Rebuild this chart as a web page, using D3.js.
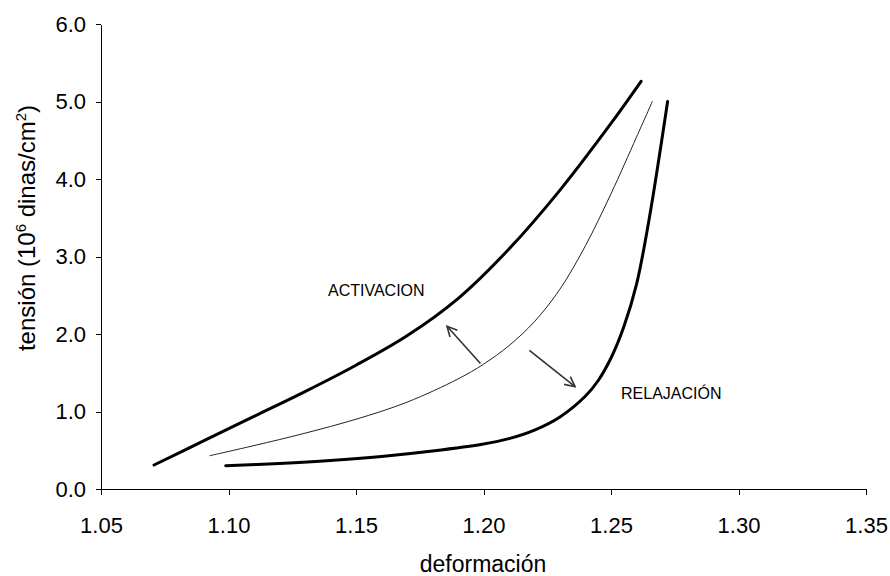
<!DOCTYPE html>
<html>
<head>
<meta charset="utf-8">
<script src="https://cdn.jsdelivr.net/npm/d3@7"></script>
<style>
  html, body { margin: 0; padding: 0; background: #fff; }
  svg { display: block; font-family: "Liberation Sans", Arial, sans-serif; }
</style>
</head>
<body>
<svg id="chart" width="890" height="576"></svg>
<script>
// Stress–strain loops: activation, intermediate and relaxation curves
const activacionX = [1.0708, 1.09, 1.11, 1.13, 1.15, 1.17, 1.19, 1.21, 1.23, 1.25, 1.2618];
const activacionY = [0.31, 0.617, 0.937, 1.257, 1.597, 1.977, 2.457, 3.097, 3.857, 4.717, 5.26];

const intermediaX = [1.0927, 1.11, 1.13, 1.15, 1.17, 1.19, 1.20, 1.21, 1.22, 1.23, 1.24, 1.25, 1.26, 1.2662];
const intermediaY = [0.43, 0.56, 0.72, 0.90, 1.12, 1.42, 1.61, 1.85, 2.16, 2.58, 3.14, 3.81, 4.54, 5.00];

const relajacionX = [1.0989, 1.12, 1.14, 1.16, 1.18, 1.20, 1.21, 1.22, 1.23, 1.24, 1.245, 1.25, 1.255, 1.26, 1.265, 1.2722];
const relajacionY = [0.30, 0.33, 0.368, 0.42, 0.49, 0.58, 0.65, 0.76, 0.93, 1.20, 1.40, 1.69, 2.09, 2.64, 3.49, 5.00];

// Arrows: [x0, y0, x1, y1] from tail to head
const flechaActivacion = [1.1988, 1.62, 1.1857, 2.10];
const flechaRelajacion = [1.2180, 1.79, 1.2359, 1.32];

const xTicks = [1.05, 1.10, 1.15, 1.20, 1.25, 1.30, 1.35];
const yTicks = [0, 1, 2, 3, 4, 5, 6];

const svg = d3.select("#chart");

const x = d3.scaleLinear().domain([1.05, 1.35]).range([101, 866]);
const y = d3.scaleLinear().domain([0, 6]).range([489, 24]);

// Axes
const xAxis = d3.axisBottom(x).tickValues(xTicks).tickFormat(d3.format(".2f"))
  .tickSizeInner(6).tickSizeOuter(0).tickPadding(22);
const yAxis = d3.axisLeft(y).tickValues(yTicks).tickFormat(d3.format(".1f"))
  .tickSizeInner(5).tickSizeOuter(0).tickPadding(10);

const gx = svg.append("g").attr("transform", "translate(0,489)").call(xAxis);
const gy = svg.append("g").attr("transform", "translate(101,0)").call(yAxis);

[gx, gy].forEach(g => {
  g.selectAll("path, line").attr("stroke", "#000").attr("stroke-width", 1)
    .attr("shape-rendering", "crispEdges");
  g.selectAll("text").attr("fill", "#000").attr("font-size", 22)
    .attr("font-family", "'Liberation Sans', Arial, sans-serif");
});

// Axis titles
svg.append("text")
  .attr("x", 483).attr("y", 572)
  .attr("text-anchor", "middle")
  .attr("font-size", 23)
  .attr("fill", "#000")
  .text("deformación");

const yt = svg.append("text")
  .attr("transform", "translate(35,228) rotate(-90)")
  .attr("text-anchor", "middle")
  .attr("font-size", 24)
  .attr("fill", "#000");
yt.append("tspan").text("tensión (10");
yt.append("tspan").attr("font-size", 15).attr("dy", -9).text("6");
yt.append("tspan").attr("dy", 9).text(" dinas/cm");
yt.append("tspan").attr("font-size", 15).attr("dy", -9).text("2");
yt.append("tspan").attr("dy", 9).text(")");

// Curves
const line = d3.line()
  .x(d => x(d[0])).y(d => y(d[1]))
  .curve(d3.curveCatmullRom.alpha(0.5));

const series = [
  { xs: activacionX, ys: activacionY, w: 3, c: "#000" },
  { xs: intermediaX, ys: intermediaY, w: 1, c: "#222" },
  { xs: relajacionX, ys: relajacionY, w: 3, c: "#000" }
];

series.forEach(s => {
  svg.append("path")
    .datum(d3.zip(s.xs, s.ys))
    .attr("d", line)
    .attr("fill", "none")
    .attr("stroke", s.c)
    .attr("stroke-width", s.w)
    .attr("stroke-linecap", "round")
    .attr("stroke-linejoin", "round");
});

// Arrow marker (open chevron head)
svg.append("defs").append("marker")
  .attr("id", "punta")
  .attr("viewBox", "0 0 12 12")
  .attr("refX", 11).attr("refY", 6)
  .attr("markerWidth", 12).attr("markerHeight", 12)
  .attr("markerUnits", "userSpaceOnUse")
  .attr("orient", "auto")
  .append("path")
  .attr("d", "M1,1 L11,6 L1,11")
  .attr("fill", "none")
  .attr("stroke", "#333")
  .attr("stroke-width", 1.6);

[flechaActivacion, flechaRelajacion].forEach(a => {
  svg.append("line")
    .attr("x1", x(a[0])).attr("y1", y(a[1]))
    .attr("x2", x(a[2])).attr("y2", y(a[3]))
    .attr("stroke", "#333")
    .attr("stroke-width", 1.6)
    .attr("marker-end", "url(#punta)");
});

// Annotations
svg.append("text")
  .attr("x", 328).attr("y", 296)
  .attr("font-size", 16)
  .attr("fill", "#000")
  .text("ACTIVACION");

svg.append("text")
  .attr("x", 621).attr("y", 399)
  .attr("font-size", 16)
  .attr("fill", "#000")
  .text("RELAJACIÓN");
</script>
</body>
</html>
